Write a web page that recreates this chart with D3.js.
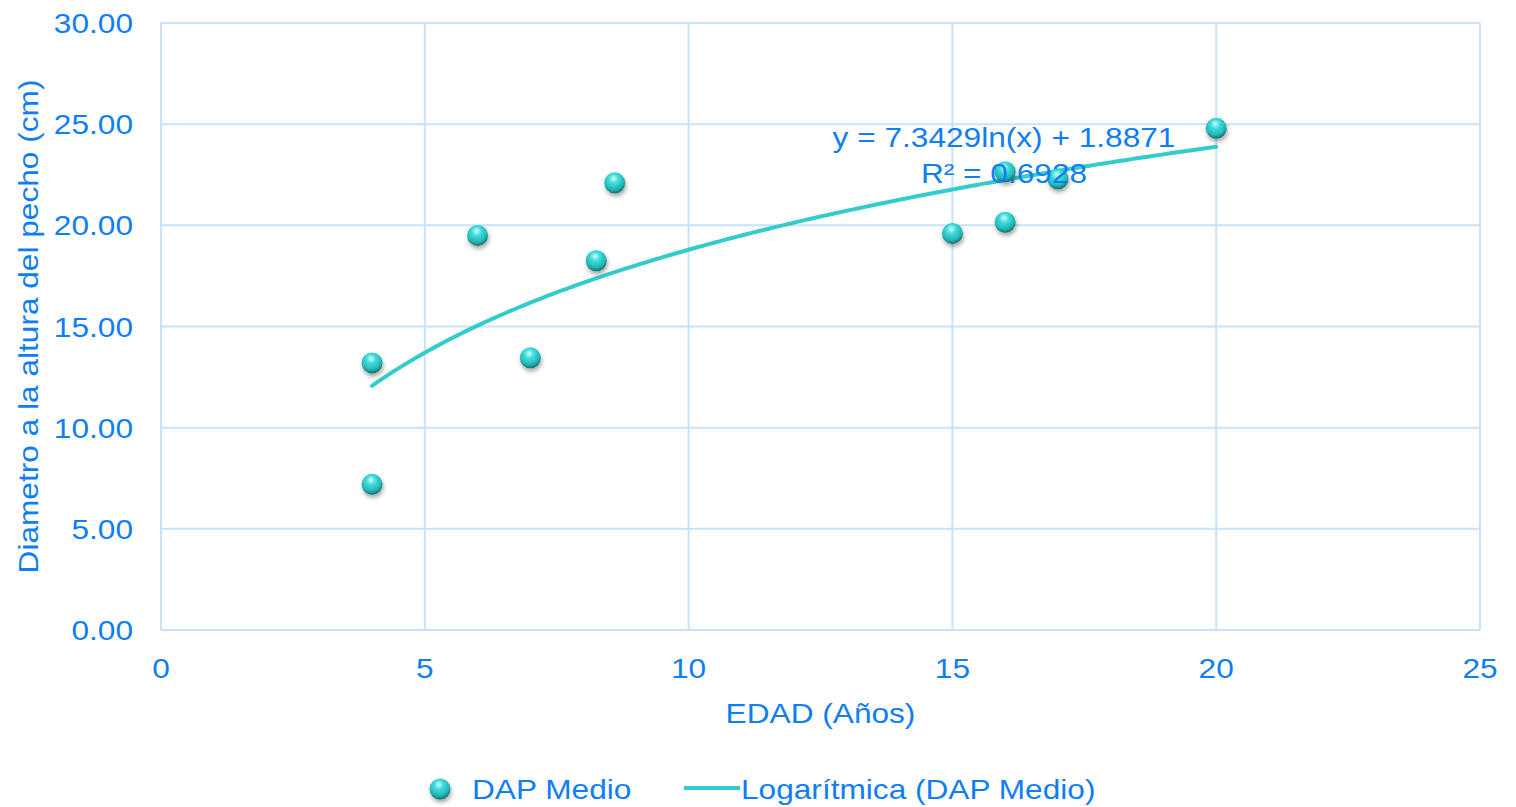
<!DOCTYPE html>
<html>
<head>
<meta charset="utf-8">
<script src="https://cdn.jsdelivr.net/npm/d3@7"></script>
<style>
  html, body { margin: 0; padding: 0; background: #fff; }
  svg { display: block; }
  text { font-family: "Liberation Sans", Arial, sans-serif; fill: #0F7EF2; }
</style>
</head>
<body>
<svg id="chart" width="1516" height="807"></svg>
<script>
// Edad (años) y DAP medio (cm) de cada parcela
const edad = [4, 4, 6, 7, 8.25, 8.6, 15, 16, 16, 17, 20];
const dap  = [13.2, 7.2, 19.5, 13.45, 18.25, 22.1, 19.6, 20.15, 22.65, 22.3, 24.8];

// Ajuste logarítmico: y = a·ln(x) + b
const coefA = 7.3429;
const coefB = 1.8871;
const r2 = 0.6928;

const xTicks = [0, 5, 10, 15, 20, 25];
const yTicks = [0, 5, 10, 15, 20, 25, 30];

const plotL = 161, plotR = 1480, plotT = 23, plotB = 630;
const FS = 28, SX = 1.13; // font size and horizontal stretch of text

const svg = d3.select("#chart");
const x = d3.scaleLinear().domain([0, 25]).range([plotL, plotR]);
const y = d3.scaleLinear().domain([0, 30]).range([plotB, plotT]);

const defs = svg.append("defs");
const grad = defs.append("radialGradient").attr("id", "sphere")
  .attr("cx", "45%").attr("cy", "35%").attr("r", "65%").attr("fx", "45%").attr("fy", "28%");
grad.append("stop").attr("offset", "0%").attr("stop-color", "#CCFFFF");
grad.append("stop").attr("offset", "35%").attr("stop-color", "#40DADA");
grad.append("stop").attr("offset", "75%").attr("stop-color", "#22B6B6");
grad.append("stop").attr("offset", "100%").attr("stop-color", "#146E6E");
const sh = defs.append("filter").attr("id", "shadow").attr("x", "-50%").attr("y", "-50%").attr("width", "200%").attr("height", "200%");
sh.append("feDropShadow").attr("dx", 1).attr("dy", 3).attr("stdDeviation", 2.2)
  .attr("flood-color", "#000").attr("flood-opacity", 0.35);

// stretched text helper
function label(g, tx, ty, str, anchor, rot) {
  return g.append("text")
    .attr("transform", `translate(${tx},${ty})` + (rot ? ` rotate(${rot})` : "") + ` scale(${SX},1)`)
    .attr("text-anchor", anchor || "middle")
    .attr("font-size", FS)
    .text(str);
}

// grid
const grid = svg.append("g").attr("stroke", "#C9E2FB").attr("stroke-width", 2);
grid.selectAll("line.v").data(xTicks).join("line").attr("class", "v")
  .attr("x1", d => x(d)).attr("x2", d => x(d)).attr("y1", plotT).attr("y2", plotB);
grid.selectAll("line.h").data(yTicks).join("line").attr("class", "h")
  .attr("x1", plotL).attr("x2", plotR).attr("y1", d => y(d)).attr("y2", d => y(d));

// tick labels
const labels = svg.append("g");
xTicks.forEach(v => label(labels, x(v), plotB + 48, d3.format("d")(v), "middle"));
yTicks.forEach(v => label(labels, plotL - 28, y(v) + 10, d3.format(".2f")(v), "end"));

// axis titles
label(labels, (plotL + plotR) / 2, 723, "EDAD (Años)", "middle");
label(labels, 38, (plotT + plotB) / 2, "Diametro a la altura del pecho (cm)", "middle", -90);

// trend line
const xs = d3.range(d3.min(edad), d3.max(edad) + 0.001, 0.1);
const line = d3.line().x(d => x(d)).y(d => y(coefA * Math.log(d) + coefB));
svg.append("path").datum(xs).attr("d", line)
  .attr("fill", "none").attr("stroke", "#33CCCC").attr("stroke-width", 4).attr("stroke-linecap", "round");

// points
svg.append("g").selectAll("circle").data(edad.map((e, i) => [e, dap[i]])).join("circle")
  .attr("cx", d => x(d[0])).attr("cy", d => y(d[1])).attr("r", 10.5)
  .attr("fill", "url(#sphere)").attr("filter", "url(#shadow)");

// equation
const eq = svg.append("g");
label(eq, 1004, 147, `y = ${coefA}ln(x) + ${coefB}`, "middle");
label(eq, 1004, 183, `R² = ${r2}`, "middle");

// legend
const leg = svg.append("g");
leg.append("circle").attr("cx", 440).attr("cy", 789).attr("r", 10.5)
  .attr("fill", "url(#sphere)").attr("filter", "url(#shadow)");
label(leg, 472, 799, "DAP Medio", "start");
leg.append("line").attr("x1", 684).attr("x2", 740).attr("y1", 788).attr("y2", 788)
  .attr("stroke", "#33CCCC").attr("stroke-width", 4);
label(leg, 741, 799, "Logarítmica (DAP Medio)", "start");
</script>
</body>
</html>
